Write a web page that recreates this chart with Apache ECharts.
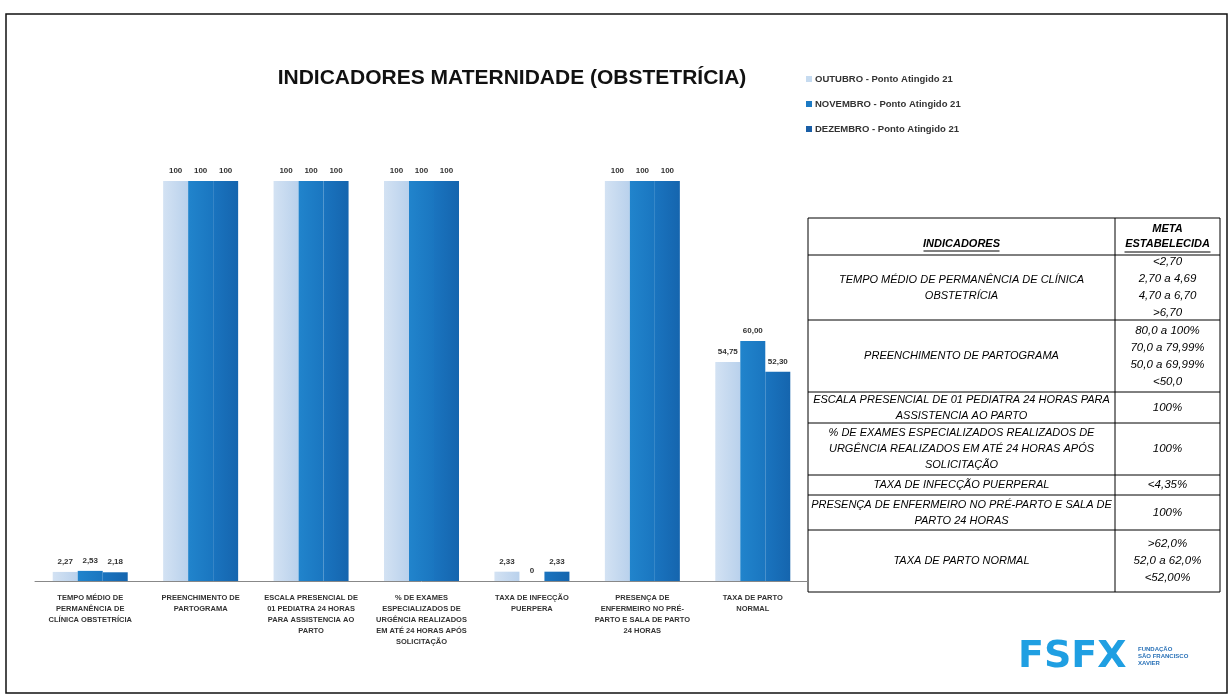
<!DOCTYPE html>
<html><head><meta charset="utf-8">
<script src="https://cdn.jsdelivr.net/npm/echarts@6/dist/echarts.min.js"></script>
<style>html,body{margin:0;padding:0;background:#fff}#c{width:1232px;height:697px}</style>
</head><body><div id="c"></div>
<script>
const categories = [
  "TEMPO MÉDIO DE\nPERMANÊNCIA DE\nCLÍNICA OBSTETRÍCIA",
  "PREENCHIMENTO DE\nPARTOGRAMA",
  "ESCALA PRESENCIAL DE\n01 PEDIATRA 24 HORAS\nPARA ASSISTENCIA AO\nPARTO",
  "% DE EXAMES\nESPECIALIZADOS DE\nURGÊNCIA REALIZADOS\nEM ATÉ 24 HORAS APÓS\nSOLICITAÇÃO",
  "TAXA DE INFECÇÃO\nPUERPERA",
  "PRESENÇA DE\nENFERMEIRO NO PRÉ-\nPARTO E SALA DE PARTO\n24 HORAS",
  "TAXA DE PARTO\nNORMAL"
];
const seriesNames = ["OUTUBRO - Ponto Atingido 21","NOVEMBRO - Ponto Atingido 21","DEZEMBRO - Ponto Atingido 21"];
const outubro  = [2.27, 100, 100, 100, 2.33, 100, 54.75];
const novembro = [2.53, 100, 100, 100, 0, 100, 60.00];
const dezembro = [2.18, 100, 100, 100, 2.33, 100, 52.30];

const tableHeader = ["INDICADORES", "META\nESTABELECIDA"];
const tableIndicators = [
  "TEMPO MÉDIO DE PERMANÊNCIA DE CLÍNICA\nOBSTETRÍCIA",
  "PREENCHIMENTO DE PARTOGRAMA",
  "ESCALA PRESENCIAL DE 01 PEDIATRA 24 HORAS PARA\nASSISTENCIA AO PARTO",
  "% DE EXAMES ESPECIALIZADOS REALIZADOS DE\nURGÊNCIA REALIZADOS EM ATÉ 24 HORAS APÓS\nSOLICITAÇÃO",
  "TAXA DE INFECÇÃO PUERPERAL",
  "PRESENÇA DE ENFERMEIRO NO PRÉ-PARTO E SALA DE\nPARTO 24 HORAS",
  "TAXA DE PARTO NORMAL"
];
const tableMetas = [
  "<2,70\n2,70 a 4,69\n4,70 a 6,70\n>6,70",
  "80,0 a 100%\n70,0 a 79,99%\n50,0 a 69,99%\n<50,0",
  "100%",
  "100%",
  "<4,35%",
  "100%",
  ">62,0%\n52,0 a 62,0%\n<52,00%"
];

function fmt(v){
  if (v === 0 || v === 100) return String(v);
  return v.toFixed(2).replace('.', ',');
}
const grad = (a,b) => new echarts.graphic.LinearGradient(0,0,1,0,[{offset:0,color:a},{offset:1,color:b}]);
const colors = [grad('#d3e2f3','#b9d1ec'), grad('#2184cc','#1a76c0'), grad('#1a74bf','#1565ae')];
const legendColors = ['#c6dbf0','#1c7ac4','#1a5ea6'];

const lbl = {show:true, position:'top', distance:6, fontSize:8, fontWeight:'bold', color:'#333', fontFamily:'Liberation Sans', formatter:p=>fmt(p.value)};
const mk = (name, data, i) => ({
  name, type:'bar', data, barWidth:25, barGap:'0%',
  itemStyle:{color:colors[i]}, label:lbl
});

// table geometry
const tx0 = 808, tx1 = 1115, tx2 = 1220;
const rowY = [218, 255, 320, 392, 423, 475, 495, 530, 592];
const g = [];
const tfont = 'italic 11px "Liberation Sans"';
const mfont = 'italic 11.5px "Liberation Sans"';
g.push({type:'rect', shape:{x:tx0,y:rowY[0],width:tx2-tx0,height:rowY[8]-rowY[0]}, style:{fill:'none',stroke:'#000',lineWidth:1}});
g.push({type:'line', shape:{x1:tx1,y1:rowY[0],x2:tx1,y2:rowY[8]}, style:{stroke:'#000',lineWidth:1}});
for (let i=1;i<rowY.length-1;i++) g.push({type:'line', shape:{x1:tx0,y1:rowY[i],x2:tx2,y2:rowY[i]}, style:{stroke:'#000',lineWidth:1}});
g.push({type:'text', x:(tx0+tx1)/2, y:rowY[1]-11, style:{text:tableHeader[0], font:'italic bold 11px "Liberation Sans"', fill:'#000', align:'center', verticalAlign:'middle'}});
g.push({type:'line', shape:{x1:(tx0+tx1)/2-38,y1:rowY[1]-4,x2:(tx0+tx1)/2+38,y2:rowY[1]-4}, style:{stroke:'#000',lineWidth:1}});
g.push({type:'text', x:(tx1+tx2)/2, y:(rowY[0]+rowY[1])/2, style:{text:tableHeader[1], font:'italic bold 11px "Liberation Sans"', fill:'#000', align:'center', verticalAlign:'middle', lineHeight:15}});
g.push({type:'line', shape:{x1:(tx1+tx2)/2-43,y1:rowY[1]-3,x2:(tx1+tx2)/2+43,y2:rowY[1]-3}, style:{stroke:'#000',lineWidth:1}});
for (let i=0;i<tableIndicators.length;i++){
  const cy = (rowY[i+1]+rowY[i+2])/2;
  g.push({type:'text', x:(tx0+tx1)/2, y:cy, style:{text:tableIndicators[i], font:tfont, fill:'#000', align:'center', verticalAlign:'middle', lineHeight:16}});
  g.push({type:'text', x:(tx1+tx2)/2, y:cy, style:{text:tableMetas[i], font:mfont, fill:'#000', align:'center', verticalAlign:'middle', lineHeight:17}});
}
// frame
g.push({type:'rect', shape:{x:6,y:14,width:1221,height:679}, style:{fill:'none',stroke:'#111',lineWidth:1.5}, z:-1});
// logo
g.push({type:'text', x:1018, y:657, style:{text:'FSFX', font:'900 38px "DejaVu Sans"', fill:'#1f9fe2', align:'left', verticalAlign:'middle'}});
g.push({type:'text', x:1138, y:656, style:{text:'FUNDAÇÃO\nSÃO FRANCISCO\nXAVIER', font:'bold 6px "Liberation Sans"', fill:'#2a72b8', align:'left', verticalAlign:'middle', lineHeight:7}});

const chart = echarts.init(document.getElementById('c'));
chart.setOption({
  backgroundColor:'#fff',
  animation:false,
  title:{text:'INDICADORES MATERNIDADE (OBSTETRÍCIA)', left:507, top:63, textAlign:'center',
    textStyle:{fontSize:21, fontWeight:'bold', color:'#111', fontFamily:'Liberation Sans'}},
  legend:{orient:'vertical', left:801, top:69, itemWidth:6, itemHeight:6, itemGap:15, icon:'rect',
    textStyle:{fontSize:9.5, fontWeight:'bold', color:'#333', fontFamily:'Liberation Sans', padding:[0,0,0,-2]},
    data:seriesNames.map((n,i)=>({name:n, itemStyle:{color:legendColors[i]}}))},
  grid:{left:35, right:424, top:181, bottom:116},
  xAxis:{type:'category', data:categories,
    axisLine:{lineStyle:{color:'#888', width:1}}, axisTick:{show:false},
    axisLabel:{interval:0, fontSize:7.5, fontWeight:'bold', color:'#333', lineHeight:11, margin:11, fontFamily:'Liberation Sans'}},
  yAxis:{type:'value', min:0, max:100, show:false, splitLine:{show:false}},
  series:[mk(seriesNames[0], outubro, 0), mk(seriesNames[1], novembro, 1), mk(seriesNames[2], dezembro, 2)],
  graphic:g
});
</script></body></html>
